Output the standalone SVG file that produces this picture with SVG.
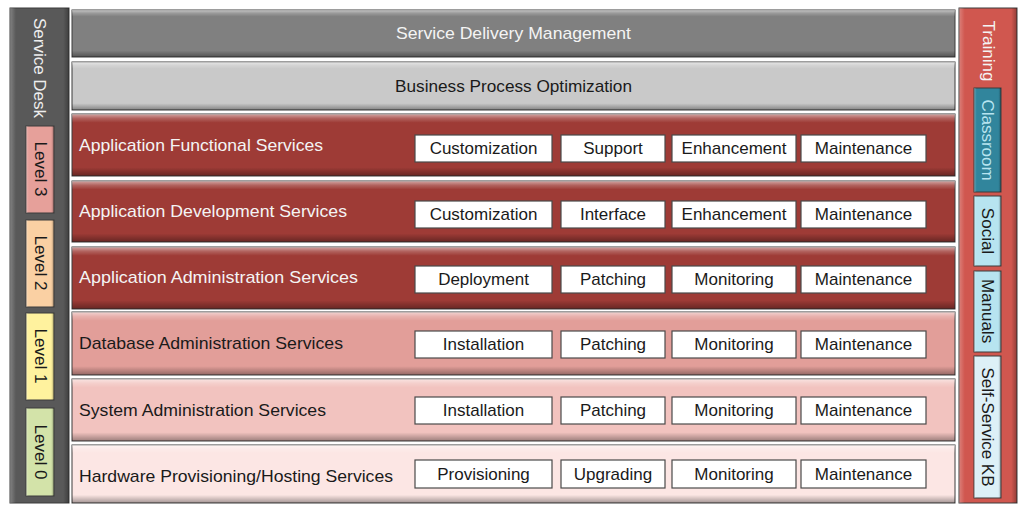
<svg xmlns="http://www.w3.org/2000/svg" width="1025" height="506" viewBox="0 0 1025 506">
<defs>
<linearGradient id="bev" x1="0" y1="0" x2="0" y2="1">
<stop offset="0" stop-color="#fff" stop-opacity="0.55"/>
<stop offset="0.07" stop-color="#fff" stop-opacity="0.2"/>
<stop offset="0.14" stop-color="#fff" stop-opacity="0"/>
<stop offset="0.86" stop-color="#000" stop-opacity="0"/>
<stop offset="1" stop-color="#000" stop-opacity="0.35"/>
</linearGradient>
<linearGradient id="bevh" x1="0" y1="0" x2="1" y2="0">
<stop offset="0" stop-color="#fff" stop-opacity="0.25"/>
<stop offset="0.1" stop-color="#fff" stop-opacity="0"/>
<stop offset="0.9" stop-color="#000" stop-opacity="0"/>
<stop offset="1" stop-color="#000" stop-opacity="0.3"/>
</linearGradient>
</defs>
<style>
text{font-family:"Liberation Sans",Arial,sans-serif;font-size:17px}
.pn{stroke:#3c3c3c;stroke-width:1}
.ov{fill:url(#bev);stroke:none}
.ovh{fill:url(#bevh);stroke:none}
.bx{fill:#fff;stroke:#4a4a4a;stroke-width:1.2}
.bt{fill:#1a1a1a;text-anchor:middle;dominant-baseline:central}
.lw{fill:#f4f4f4;dominant-baseline:central}
.ld{fill:#1a1a1a;dominant-baseline:central}
.vt{text-anchor:middle;dominant-baseline:central}
</style>
<rect width="1025" height="506" fill="#fff"/>

<g id="service-desk">
<rect class="pn" x="10" y="8" width="59" height="495" fill="#595959"/>
<rect class="ovh" x="10" y="8" width="59" height="495"/>
<text class="vt" fill="#eeeeee" transform="translate(39,68) rotate(90)">Service Desk</text>
</g>
<g id="level3"><rect class="pn" x="26" y="126" width="28" height="87" fill="#E6A09A"/><rect class="ovh" x="26" y="126" width="28" height="87"/><text class="vt" fill="#1a1a1a" transform="translate(40,169) rotate(90)">Level 3</text></g>
<g id="level2"><rect class="pn" x="26" y="220" width="28" height="87" fill="#FAD0A3"/><rect class="ovh" x="26" y="220" width="28" height="87"/><text class="vt" fill="#1a1a1a" transform="translate(40,263) rotate(90)">Level 2</text></g>
<g id="level1"><rect class="pn" x="26" y="313" width="28" height="87" fill="#FFF29E"/><rect class="ovh" x="26" y="313" width="28" height="87"/><text class="vt" fill="#1a1a1a" transform="translate(40,356) rotate(90)">Level 1</text></g>
<g id="level0"><rect class="pn" x="26" y="408" width="28" height="88" fill="#D3E3A9"/><rect class="ovh" x="26" y="408" width="28" height="88"/><text class="vt" fill="#1a1a1a" transform="translate(40,452) rotate(90)">Level 0</text></g>

<g id="training">
<rect class="pn" x="959" y="8" width="58" height="495" fill="#D0574F"/>
<rect class="ovh" x="959" y="8" width="58" height="495"/>
<text class="vt" fill="#f4f4f4" transform="translate(988,51) rotate(90)">Training</text>
</g>
<g id="classroom"><rect class="pn" x="974" y="88" width="27" height="104" fill="#31859C"/><rect class="ovh" x="974" y="88" width="27" height="104"/><text class="vt" fill="#B7E4F0" transform="translate(987.5,140) rotate(90)">Classroom</text></g>
<g id="social"><rect class="pn" x="974" y="196" width="27" height="70" fill="#B7E4F0"/><rect class="ovh" x="974" y="196" width="27" height="70"/><text class="vt" fill="#1a1a1a" transform="translate(987.5,231) rotate(90)">Social</text></g>
<g id="manuals"><rect class="pn" x="974" y="271" width="27" height="81" fill="#B7E4F0"/><rect class="ovh" x="974" y="271" width="27" height="81"/><text class="vt" fill="#1a1a1a" transform="translate(987.5,311) rotate(90)">Manuals</text></g>
<g id="selfservice"><rect class="pn" x="974" y="356" width="27" height="142" fill="#DDF0F7"/><rect class="ovh" x="974" y="356" width="27" height="142"/><text class="vt" fill="#1a1a1a" transform="translate(987.5,427) rotate(90)">Self-Service KB</text></g>

<g id="sdm">
<rect class="pn" x="72" y="10" width="883" height="47" fill="#808080"/>
<rect class="ov" x="72" y="10" width="883" height="47"/>
<text x="513.5" y="33" fill="#f4f4f4" text-anchor="middle" dominant-baseline="central" textLength="235" lengthAdjust="spacingAndGlyphs">Service Delivery Management</text>
</g>
<g id="bpo">
<rect class="pn" x="72" y="62" width="883" height="48" fill="#C9C9C9"/>
<rect class="ov" x="72" y="62" width="883" height="48"/>
<text x="513.5" y="86" fill="#1a1a1a" text-anchor="middle" dominant-baseline="central" textLength="237" lengthAdjust="spacingAndGlyphs">Business Process Optimization</text>
</g>

<g id="afs">
<rect class="pn" x="72" y="114" width="883" height="62" fill="#9E3B36"/>
<rect class="ov" x="72" y="114" width="883" height="62"/>
<text class="lw" x="79" y="145" textLength="244" lengthAdjust="spacingAndGlyphs">Application Functional Services</text>
<rect class="bx" x="415" y="135" width="137" height="27"/><text class="bt" x="483.5" y="148.5">Customization</text>
<rect class="bx" x="561" y="135" width="104" height="27"/><text class="bt" x="613" y="148.5">Support</text>
<rect class="bx" x="672" y="135" width="124" height="27"/><text class="bt" x="734" y="148.5">Enhancement</text>
<rect class="bx" x="801" y="135" width="125" height="27"/><text class="bt" x="863.5" y="148.5">Maintenance</text>
</g>
<g id="ads">
<rect class="pn" x="72" y="181" width="883" height="61" fill="#9E3B36"/>
<rect class="ov" x="72" y="181" width="883" height="61"/>
<text class="lw" x="79" y="211" textLength="268" lengthAdjust="spacingAndGlyphs">Application Development Services</text>
<rect class="bx" x="415" y="201" width="137" height="27"/><text class="bt" x="483.5" y="214.5">Customization</text>
<rect class="bx" x="561" y="201" width="104" height="27"/><text class="bt" x="613" y="214.5">Interface</text>
<rect class="bx" x="672" y="201" width="124" height="27"/><text class="bt" x="734" y="214.5">Enhancement</text>
<rect class="bx" x="801" y="201" width="125" height="27"/><text class="bt" x="863.5" y="214.5">Maintenance</text>
</g>
<g id="aas">
<rect class="pn" x="72" y="247" width="883" height="62" fill="#9E3B36"/>
<rect class="ov" x="72" y="247" width="883" height="62"/>
<text class="lw" x="79" y="277" textLength="279" lengthAdjust="spacingAndGlyphs">Application Administration Services</text>
<rect class="bx" x="415" y="266" width="137" height="27"/><text class="bt" x="483.5" y="279.5">Deployment</text>
<rect class="bx" x="561" y="266" width="104" height="27"/><text class="bt" x="613" y="279.5">Patching</text>
<rect class="bx" x="672" y="266" width="124" height="27"/><text class="bt" x="734" y="279.5">Monitoring</text>
<rect class="bx" x="801" y="266" width="125" height="27"/><text class="bt" x="863.5" y="279.5">Maintenance</text>
</g>
<g id="das">
<rect class="pn" x="72" y="312" width="883" height="63" fill="#E29E99"/>
<rect class="ov" x="72" y="312" width="883" height="63"/>
<text class="ld" x="79" y="343" textLength="264" lengthAdjust="spacingAndGlyphs">Database Administration Services</text>
<rect class="bx" x="415" y="331" width="137" height="27"/><text class="bt" x="483.5" y="344.5">Installation</text>
<rect class="bx" x="561" y="331" width="104" height="27"/><text class="bt" x="613" y="344.5">Patching</text>
<rect class="bx" x="672" y="331" width="124" height="27"/><text class="bt" x="734" y="344.5">Monitoring</text>
<rect class="bx" x="801" y="331" width="125" height="27"/><text class="bt" x="863.5" y="344.5">Maintenance</text>
</g>
<g id="sas">
<rect class="pn" x="72" y="379" width="883" height="62" fill="#F2C3BF"/>
<rect class="ov" x="72" y="379" width="883" height="62"/>
<text class="ld" x="79" y="410" textLength="247" lengthAdjust="spacingAndGlyphs">System Administration Services</text>
<rect class="bx" x="415" y="397" width="137" height="27"/><text class="bt" x="483.5" y="410.5">Installation</text>
<rect class="bx" x="561" y="397" width="104" height="27"/><text class="bt" x="613" y="410.5">Patching</text>
<rect class="bx" x="672" y="397" width="124" height="27"/><text class="bt" x="734" y="410.5">Monitoring</text>
<rect class="bx" x="801" y="397" width="125" height="27"/><text class="bt" x="863.5" y="410.5">Maintenance</text>
</g>
<g id="hps">
<rect class="pn" x="72" y="445" width="883" height="58" fill="#FCE6E4"/>
<rect class="ov" x="72" y="445" width="883" height="58"/>
<text class="ld" x="79" y="476" textLength="314" lengthAdjust="spacingAndGlyphs">Hardware Provisioning/Hosting Services</text>
<rect class="bx" x="415" y="460" width="137" height="28"/><text class="bt" x="483.5" y="474">Provisioning</text>
<rect class="bx" x="561" y="460" width="104" height="28"/><text class="bt" x="613" y="474">Upgrading</text>
<rect class="bx" x="672" y="460" width="124" height="28"/><text class="bt" x="734" y="474">Monitoring</text>
<rect class="bx" x="801" y="460" width="125" height="28"/><text class="bt" x="863.5" y="474">Maintenance</text>
</g>
<g id="connectors"/>
</svg>
